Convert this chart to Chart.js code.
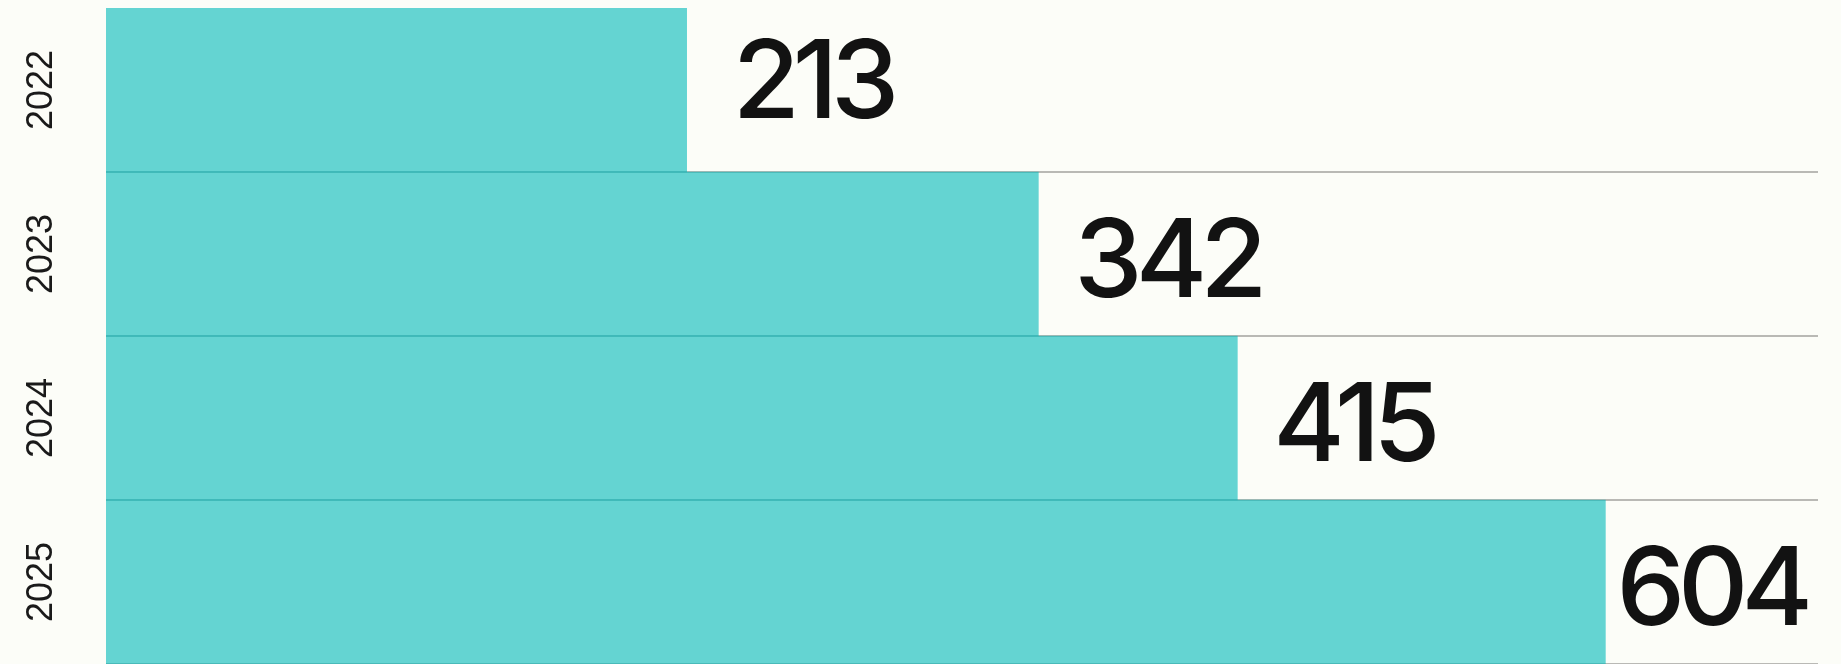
<!DOCTYPE html>
<html lang="es">
<head>
<meta charset="utf-8">
<title>Resumen anual</title>
<script src="https://cdn.jsdelivr.net/npm/chart.js@4"></script>
<style>
    html, body { margin: 0; padding: 0; background: #fcfdf8; }
    #contenedor { width: 1841px; height: 664px; position: relative; }
</style>
</head>
<body>
<div id="contenedor"><canvas id="graficoReporte"></canvas></div>
<script>
// Datos
const anios = ['2022', '2023', '2024', '2025'];
const largoBarras = [213, 342, 415, 550];   // longitud visible de cada barra
const etiquetasValor = ['213', '342', '415', '604']; // texto mostrado junto a la barra
const maximoEje = 628;

// Etiquetas de años giradas a la izquierda de cada barra
const pluginAnios = {
    id: 'pluginAnios',
    afterDraw(chart) {
        const { ctx, scales: { y }, chartArea } = chart;
        ctx.save();
        ctx.fillStyle = '#1a1a1a';
        ctx.font = '300 36px "Liberation Sans", Arial, sans-serif';
        ctx.textAlign = 'center';
        ctx.textBaseline = 'middle';
        anios.forEach((a, i) => {
            const py = y.getPixelForValue(i);
            ctx.save();
            ctx.translate(chartArea.left - 64, py);
            ctx.rotate(-Math.PI / 2);
            ctx.fillText(a, 0, 0);
            ctx.restore();
        });
        ctx.restore();
    }
};

// Valores grandes al final de cada barra
const pluginValores = {
    id: 'pluginValores',
    afterDatasetsDraw(chart) {
        const { ctx, chartArea } = chart;
        const meta = chart.getDatasetMeta(0);
        ctx.save();
        ctx.fillStyle = '#121212';
        ctx.font = '500 109px Inter, "Noto Sans", sans-serif';
        if ('letterSpacing' in ctx) ctx.letterSpacing = '-7px';
        ctx.textAlign = 'left';
        ctx.textBaseline = 'middle';
        meta.data.forEach((bar, i) => {
            const texto = etiquetasValor[i];
            const ancho = ctx.measureText(texto).width;
            // la primera etiqueta va un poco más arriba y separada, como en el original
            let x = bar.x + (i === 0 ? 46 : 36);
            const yTexto = bar.y + (i === 0 ? -5 : 10);
            if (x + ancho > chartArea.right - 12) x = chartArea.right - 12 - ancho;
            ctx.fillText(texto, x, yTexto);
        });
        ctx.restore();
    }
};

new Chart(document.getElementById('graficoReporte'), {
    type: 'bar',
    data: {
        labels: anios,
        datasets: [{
            data: largoBarras,
            backgroundColor: 'rgba(6, 187, 187, 0.62)',
            borderWidth: 0,
            barPercentage: 1,
            categoryPercentage: 1
        }]
    },
    options: {
        indexAxis: 'y',
        responsive: true,
        maintainAspectRatio: false,
        animation: false,
        layout: { padding: { left: 106, top: 8, right: 23, bottom: 0 } },
        plugins: {
            legend: { display: false },
            tooltip: { enabled: false }
        },
        scales: {
            x: {
                display: false,
                min: 0,
                max: maximoEje
            },
            y: {
                border: { display: false },
                ticks: { display: false },
                grid: {
                    offset: true,
                    drawTicks: false,
                    lineWidth: 2,
                    color: (c) => (c.index === 0 || c.index >= anios.length) ? 'rgba(0,0,0,0)' : '#b9b9b5'
                }
            }
        }
    },
    plugins: [pluginAnios, pluginValores]
});
</script>
</body>
</html>
